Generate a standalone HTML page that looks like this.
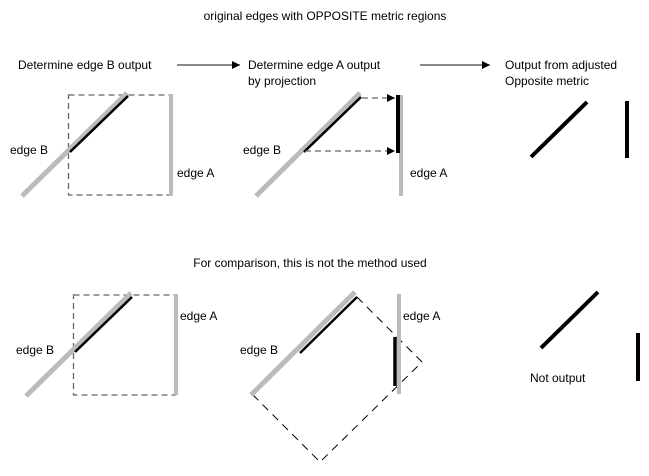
<!DOCTYPE html>
<html><head><meta charset="utf-8"><style>
html,body{margin:0;padding:0;background:#fff}
svg{display:block}
text{font-family:"Liberation Sans",sans-serif;font-size:12px;fill:#000}
</style></head><body>
<svg width="649" height="476" viewBox="0 0 649 476">
<defs>
<marker id="ah" markerWidth="8" markerHeight="8" refX="8" refY="4" orient="auto" markerUnits="userSpaceOnUse">
<path d="M0,0 L8,4 L0,8 z" fill="#000"/></marker>
</defs>
<text x="325" y="20" text-anchor="middle">original edges with OPPOSITE metric regions</text>
<text x="18" y="69">Determine edge B output</text>
<line x1="177" y1="65" x2="240" y2="65" stroke="#444" stroke-width="1.2" marker-end="url(#ah)"/>
<text x="248" y="69">Determine edge A output</text>
<text x="248" y="85">by projection</text>
<line x1="420" y1="65" x2="490" y2="65" stroke="#444" stroke-width="1.2" marker-end="url(#ah)"/>
<text x="505" y="69">Output from adjusted</text>
<text x="505" y="85">Opposite metric</text>

<!-- top panel 1 -->
<rect x="68.5" y="95" width="102" height="100" fill="none" stroke="#666" stroke-width="1.3" stroke-dasharray="6,4"/>
<line x1="22" y1="196" x2="127" y2="93" stroke="#bbb" stroke-width="5"/>
<line x1="70" y1="152" x2="128" y2="96" stroke="#000" stroke-width="2.5"/>
<line x1="171" y1="94" x2="171" y2="196" stroke="#bbb" stroke-width="4"/>
<text x="10" y="154">edge B</text>
<text x="177" y="177">edge A</text>

<!-- top panel 2 -->
<line x1="256" y1="196" x2="360" y2="93" stroke="#bbb" stroke-width="5"/>
<line x1="304" y1="152" x2="361" y2="97" stroke="#000" stroke-width="2.5"/>
<line x1="362" y1="98" x2="395" y2="98" stroke="#666" stroke-width="1.3" stroke-dasharray="6,4" marker-end="url(#ah)"/>
<line x1="305" y1="151" x2="395" y2="151" stroke="#666" stroke-width="1.3" stroke-dasharray="6,4" marker-end="url(#ah)"/>
<line x1="401" y1="95" x2="401" y2="196" stroke="#bbb" stroke-width="4"/>
<line x1="398" y1="95" x2="398" y2="153" stroke="#000" stroke-width="4"/>
<text x="243" y="154">edge B</text>
<text x="410" y="177">edge A</text>

<!-- top panel 3 -->
<line x1="531" y1="157" x2="587" y2="102" stroke="#000" stroke-width="4"/>
<line x1="627" y1="101" x2="627" y2="158" stroke="#000" stroke-width="4"/>

<text x="310" y="267" text-anchor="middle">For comparison, this is not the method used</text>

<!-- bottom panel 1 -->
<rect x="73.5" y="295" width="102" height="100" fill="none" stroke="#666" stroke-width="1.3" stroke-dasharray="6,4"/>
<line x1="26" y1="396" x2="131" y2="293" stroke="#bbb" stroke-width="5"/>
<line x1="75" y1="352" x2="132" y2="297" stroke="#000" stroke-width="2.5"/>
<line x1="176" y1="294" x2="176" y2="395" stroke="#bbb" stroke-width="4"/>
<text x="16" y="354">edge B</text>
<text x="180" y="320">edge A</text>

<!-- bottom panel 2 -->
<path d="M357,297 L422,362 L320,462 L252,394" fill="none" stroke="#000" stroke-width="1" stroke-dasharray="8,6"/>
<line x1="251" y1="395" x2="355" y2="292" stroke="#bbb" stroke-width="5"/>
<line x1="300" y1="353" x2="357" y2="297" stroke="#000" stroke-width="2.5"/>
<line x1="399" y1="294" x2="399" y2="394" stroke="#bbb" stroke-width="4"/>
<line x1="395" y1="337" x2="395" y2="386" stroke="#000" stroke-width="3.5"/>
<text x="240" y="354">edge B</text>
<text x="403" y="320">edge A</text>

<!-- bottom panel 3 -->
<line x1="541" y1="348" x2="598" y2="292" stroke="#000" stroke-width="4"/>
<line x1="638" y1="333" x2="638" y2="381" stroke="#000" stroke-width="4"/>
<text x="530" y="382">Not output</text>
</svg>
</body></html>
